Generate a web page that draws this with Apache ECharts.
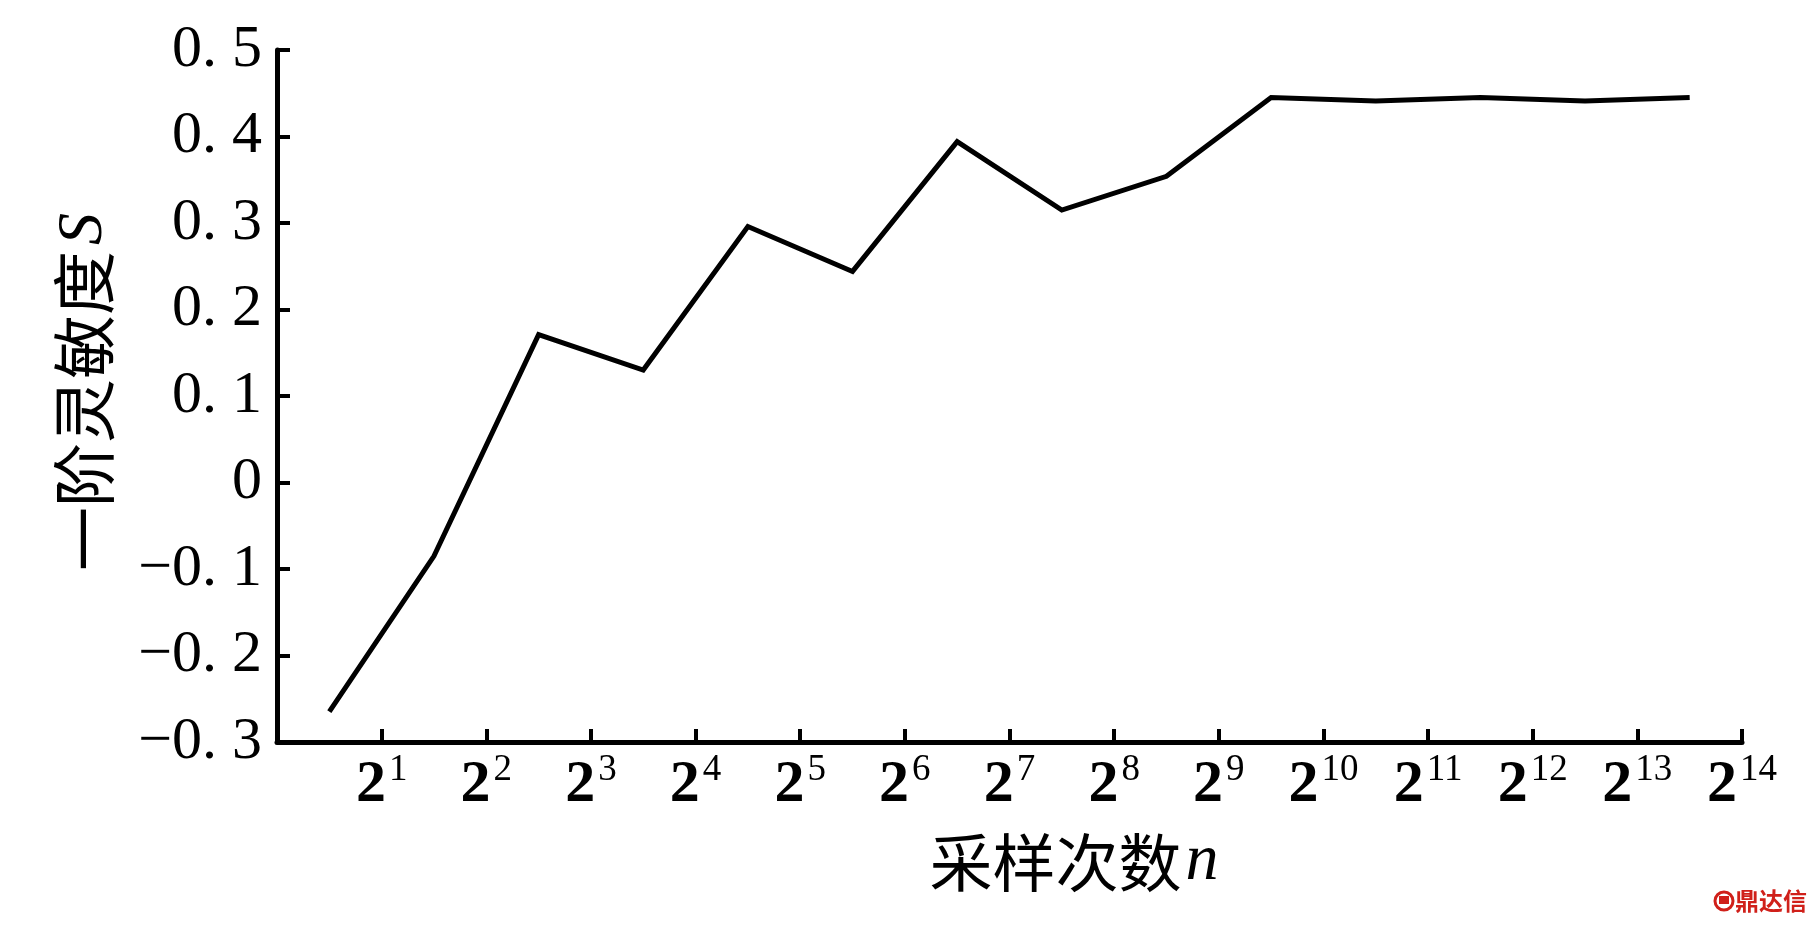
<!DOCTYPE html>
<html>
<head>
<meta charset="utf-8">
<script src="https://cdn.jsdelivr.net/npm/echarts@6/dist/echarts.min.js"></script>
<style>
html,body{margin:0;padding:0;background:#fff;}
#chart{width:1819px;height:925px;}
</style>
</head>
<body>
<div id="chart"></div>
<script>
// x positions in log2(n) units (points sit midway between power-of-two ticks)
var xLog2 = [0.5, 1.5, 2.5, 3.5, 4.5, 5.5, 6.5, 7.5, 8.5, 9.5, 10.5, 11.5, 12.5, 13.5];
// first-order sensitivity S
var sValues = [-0.265, -0.085, 0.171, 0.130, 0.296, 0.244, 0.394, 0.315, 0.354, 0.445, 0.441, 0.445, 0.441, 0.445];
// y tick labels from -0.3 to 0.5
var yTickLabels = ['\u22120. 3', '\u22120. 2', '\u22120. 1', '0', '0. 1', '0. 2', '0. 3', '0. 4', '0. 5'];
// x tick exponents (labels 2^k)
var xTickExponents = [1, 2, 3, 4, 5, 6, 7, 8, 9, 10, 11, 12, 13, 14];
var yAxisTitle = '一阶灵敏度';
var yAxisSymbol = 'S';
var xAxisTitle = '采样次数';
var xAxisSymbol = 'n';
var watermark = '鼎达信';

var serif = '"Liberation Serif", "DejaVu Serif", serif';
var cjk = '"Noto Sans CJK SC", sans-serif';

var chart = echarts.init(document.getElementById('chart'));
var data = xLog2.map(function (x, i) { return [x, sValues[i]]; });

chart.setOption({
  backgroundColor: '#fff',
  animation: false,
  grid: { left: 277, right: 77, top: 50, bottom: 183, containLabel: false },
  xAxis: {
    type: 'value', min: 0, max: 14, interval: 1,
    axisLine: { show: true, onZero: false, lineStyle: { color: '#000', width: 5 } },
    axisTick: { show: true, inside: true, length: 13, lineStyle: { color: '#000', width: 4 } },
    splitLine: { show: false },
    axisLabel: {
      margin: 10,
      formatter: function (v) {
        if (xTickExponents.indexOf(v) < 0) return '';
        return '{b|2}{s|' + v + '}';
      },
      rich: {
        b: { fontFamily: serif, fontSize: 60, color: '#000', fontWeight: 'bold', verticalAlign: 'bottom' },
        s: { fontFamily: serif, fontSize: 37, color: '#000', verticalAlign: 'bottom', padding: [0, 0, 26, 3] }
      }
    }
  },
  yAxis: {
    type: 'value', min: -0.3, max: 0.5, interval: 0.1,
    axisLine: { show: true, lineStyle: { color: '#000', width: 5 } },
    axisTick: { show: true, inside: true, length: 13, lineStyle: { color: '#000', width: 4 } },
    splitLine: { show: false },
    axisLabel: {
      margin: 15,
      color: '#000',
      fontFamily: serif,
      fontSize: 60,
      formatter: function (v) {
        var idx = Math.round((v + 0.3) / 0.1);
        return yTickLabels[idx] || '';
      }
    }
  },
  graphic: [
    {
      type: 'text', x: 84, y: 392, rotation: Math.PI / 2,
      style: {
        text: '{c|' + yAxisTitle + '}{i|' + yAxisSymbol + '}',
        align: 'center', verticalAlign: 'middle',
        rich: {
          c: { fontFamily: cjk, fontSize: 64, fill: '#000' },
          i: { fontFamily: serif, fontSize: 64, fontStyle: 'italic', fill: '#000', padding: [0, 0, 0, 6] }
        }
      }
    },
    {
      type: 'text', x: 1074, y: 862,
      style: {
        text: '{c|' + xAxisTitle + '}{i|' + xAxisSymbol + '}',
        align: 'center', verticalAlign: 'middle',
        rich: {
          c: { fontFamily: cjk, fontSize: 63, fill: '#000' },
          i: { fontFamily: serif, fontSize: 66, fontStyle: 'italic', fill: '#000', padding: [0, 0, 0, 4] }
        }
      }
    },
    {
      type: 'circle', shape: { cx: 1724, cy: 901, r: 9 },
      style: { fill: '#fff', stroke: '#d0201a', lineWidth: 3 }
    },
    {
      type: 'rect', shape: { x: 1719, y: 896, width: 10, height: 8 },
      style: { fill: '#d0201a' }
    },
    {
      type: 'text', x: 1735, y: 901,
      style: { text: watermark, fontFamily: cjk, fontSize: 24, fontWeight: 'bold', fill: '#d0201a', align: 'left', verticalAlign: 'middle' }
    }
  ],
  series: [{
    type: 'line',
    data: data,
    showSymbol: false,
    symbol: 'none',
    lineStyle: { color: '#000', width: 5, join: 'miter' }
  }]
});
</script>
</body>
</html>
